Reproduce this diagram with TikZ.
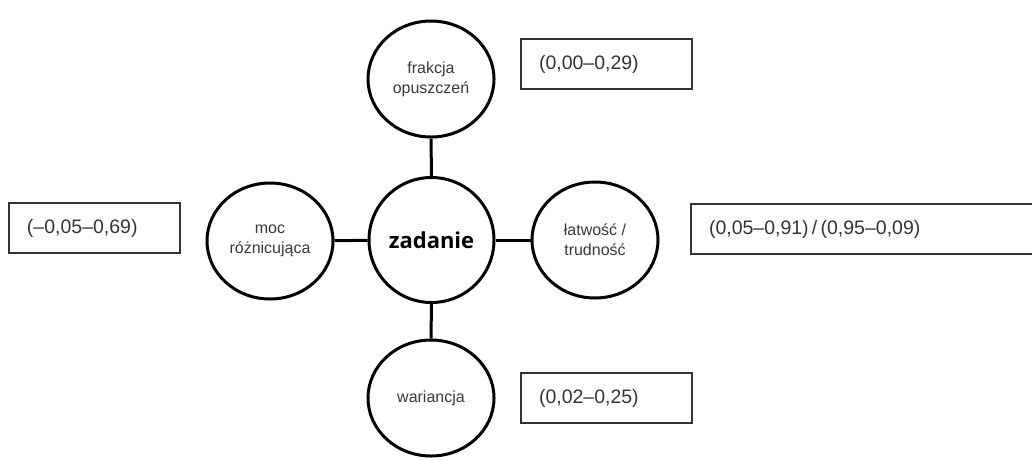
\documentclass[tikz,border=0pt]{standalone}
\usepackage{fontspec}
\setmainfont{Liberation Sans}
\newfontfamily\headfont{Open Sans}
\usepackage{tikz}
\usetikzlibrary{shapes}

\begin{document}
\begin{tikzpicture}[x=1pt,y=-1pt,
    core/.style={draw=black,line width=3pt,circle,minimum size=125pt,inner sep=0pt,
      font=\headfont\bfseries\fontsize{22}{26}\selectfont},
    feature/.style={draw=black,line width=3pt,ellipse,minimum width=126pt,minimum height=116pt,
      inner sep=0pt,align=center,text=black!78,font=\fontsize{16}{20}\selectfont},
    rangebox/.style={draw=black!80,line width=1.5pt,rectangle,anchor=north west,outer sep=0pt,
      minimum height=50pt,inner xsep=18pt,align=left,text=black!80,font=\fontsize{19.5}{22}\selectfont},
    link/.style={line width=3pt,black}]
         \useasboundingbox (0,0) rectangle (1032,459);
         \node[core] (task) at (431.5,240) {zadanie};
         \node[feature] (omit) at (431,79) {frakcja\\opuszczeń};
         \node[feature] (disc) at (270,241) {moc\\różnicująca};
         \node[feature] (ease) at (595,240) {łatwość /\\trudność};
         \node[feature] (var) at (431,398) {wariancja};
         \foreach \f in {omit,disc,ease,var} {\draw[link] (task) -- (\f);}
         \node[rangebox,text width=135pt] (omitrange) at (521,39) {(0,00--0,29)};
         \node[rangebox,text width=135pt] (discrange) at (9,203) {(--0,05--0,69)};
         \node[rangebox,text width=313pt] (easerange) at (691,204) {(0,05--0,91)\,/\,(0,95--0,09)};
         \node[rangebox,text width=135pt] (varrange) at (521,373) {(0,02--0,25)};
      \end{tikzpicture}
\end{document}
